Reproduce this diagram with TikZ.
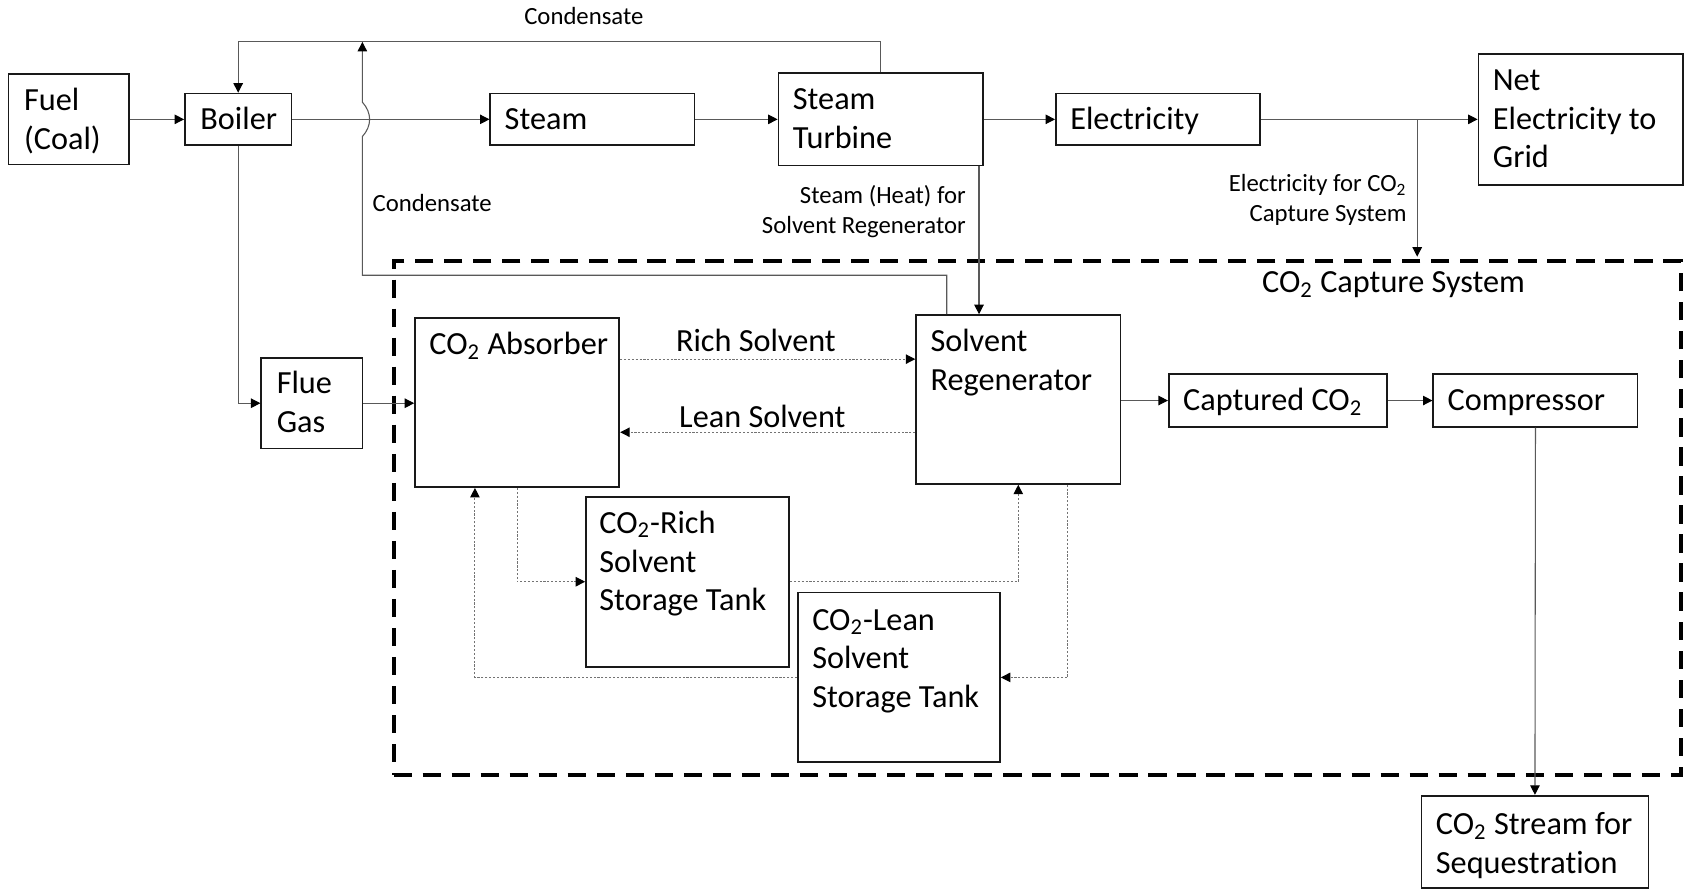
\documentclass[tikz,border=0pt]{standalone}
\usepackage{fontspec}
\setmainfont{Carlito}[Ligatures=NoCommon]
\usetikzlibrary{arrows.meta,fit,calc}
\newcommand{\cotwo}{CO\textsubscript{2}}
\newcommand{\bigfont}{\fontsize{15}{18}\selectfont}
\newcommand{\smallfont}{\fontsize{11.5}{14}\selectfont}
\tikzset{
  blk/.style={draw=black!90, line width=0.8pt, inner sep=0pt},
  % multi-line texts are anchored at the baseline of their last line
  blktxt/.style={font=\bigfont, align=left, inner sep=0pt, anchor=base west},
  hdr/.style={font=\bigfont, inner sep=0pt, anchor=base},
  sidenote/.style={font=\smallfont, inner sep=0pt},
  arrowtip/.style={-{Triangle[length=4.4pt,width=4.4pt,color=black]}},
  flowline/.style={draw=black!65, line width=0.5pt},
  solvline/.style={draw=black!55, line width=0.5pt, dash pattern=on 1pt off 0.8pt},
  capregion/.style={draw=black, line width=1.9pt, dash pattern=on 8.5pt off 5pt, inner sep=0pt},
}
\begin{document}
\begin{tikzpicture}[x=0.5pt, y=-0.5pt]
\useasboundingbox (0,0) rectangle (1568,828);

% capture system boundary
\node[capregion, fit={(366,243) (1563,721)}] (capture) {};
\node[hdr] (capturetext) at (1296,272) {\cotwo{} Capture System};

% blocks
\node[blk, fit={(8,69) (120,153)}] (fuel) {};
\node[blk, fit={(172,87) (271,135)}] (boiler) {};
\node[blk, fit={(456,87) (646,135)}] (steam) {};
\node[blk, fit={(724,68) (914,154)}] (turbine) {};
\node[blk, fit={(982,87) (1172,135)}] (elec) {};
\node[blk, fit={(1375,50) (1565,172)}] (net) {};
\node[blk, fit={(243,333) (337,417)}] (flue) {};
\node[blk, fit={(386,296) (576,453)}] (absorber) {};
\node[blk, fit={(852,293) (1042,450)}] (regen) {};
\node[blk, fit={(1087,348) (1290,397)}] (captured) {};
\node[blk, fit={(1333,348) (1523,397)}] (compressor) {};
\node[blk, fit={(545,462) (734,620)}] (richtank) {};
\node[blk, fit={(742,551) (930,709)}] (leantank) {};
\node[blk, fit={(1322,740) (1533,826)}] (stream) {};

% block texts
\node[blktxt] (fueltext) at (22,139) {Fuel\\(Coal)};
\node[blktxt] (boilertext) at (186,120) {Boiler};
\node[blktxt] (steamtext) at (469,120) {Steam};
\node[blktxt] (turbinetext) at (737,138) {Steam\\Turbine};
\node[blktxt] (electext) at (995,120) {Electricity};
\node[blktxt] (nettext) at (1388,156) {Net\\Electricity to\\Grid};
\node[blktxt] (fluetext) at (257,402) {Flue\\Gas};
\node[blktxt] (absorbertext) at (399,330) {\cotwo{} Absorber};
\node[blktxt] (regentext) at (865,363) {Solvent\\Regenerator};
\node[blktxt] (capturedtext) at (1100,382) {Captured \cotwo};
\node[blktxt] (compressortext) at (1346,382) {Compressor};
\node[blktxt] (richtanktext) at (557,568) {\cotwo-Rich\\Solvent\\Storage Tank};
\node[blktxt] (leantanktext) at (755,658) {\cotwo-Lean\\Solvent\\Storage Tank};
\node[blktxt] (streamtext) at (1335,812) {\cotwo{} Stream for\\Sequestration};

% helper coordinates for connector routing
\coordinate (ctop) at (0,39);
\coordinate (cjoin) at (337,39);
\coordinate (cback) at (880.5,256);
\coordinate (sheat) at (910.5,0);
\coordinate (ebranch) at (1318,111);
\coordinate (richy) at (0,334);
\coordinate (leany) at (0,402);
\coordinate (adown) at (481,0);
\coordinate (aup) at (441.7,0);
\coordinate (rup) at (947,0);
\coordinate (rdown) at (993,0);

% main power path
\draw[flowline, arrowtip] (fuel.east |- boiler.west) -- (boiler.west);
\draw[flowline, arrowtip] (boiler.east) -- (steam.west);
\draw[flowline, arrowtip] (steam.east) -- (turbine.west |- steam.east);
\draw[flowline, arrowtip] (turbine.east |- elec.west) -- (elec.west);
\draw[flowline, arrowtip] (elec.east) -- (net.west |- elec.east);
\draw[flowline, arrowtip, shorten >=1.2pt] (ebranch) -- (ebranch |- capture.north);

% condensate returns
\draw[flowline, arrowtip] (turbine.north) -- (turbine.north |- ctop) -- (boiler.north |- ctop) -- (boiler.north);
\draw[flowline, arrowtip] (regen.north -| cback) -- (cback) -- (cjoin |- cback) -- (337,127)
  .. controls (346,117) and (346,105) .. (337,95) -- (cjoin);

% steam to regenerator
\draw[flowline, arrowtip] (turbine.south -| sheat) -- (regen.north -| sheat);

% flue gas path
\draw[flowline, arrowtip] (boiler.south) |- (flue.west);
\draw[flowline, arrowtip] (flue.east) -- (flue.east -| absorber.west);

% solvent loop
\draw[solvline, arrowtip] (absorber.east |- richy) -- (regen.west |- richy);
\draw[solvline, arrowtip] (regen.west |- leany) -- (absorber.east |- leany);
\draw[solvline, arrowtip] (absorber.south -| adown) |- (richtank.west);
\draw[solvline, arrowtip] (richtank.east) -| (regen.south -| rup);
\draw[solvline, arrowtip] (regen.south -| rdown) |- (leantank.east);
\draw[solvline, arrowtip] (leantank.west) -| (absorber.south -| aup);

% captured CO2 path
\draw[flowline, arrowtip] (regen.east |- captured.west) -- (captured.west);
\draw[flowline, arrowtip] (captured.east) -- (compressor.west);
\draw[flowline, arrowtip] (compressor.south) -- (stream.north);

% flow labels
\node[sidenote, anchor=base] (condtop) at (543,23) {Condensate};
\node[sidenote, anchor=base] (condlow) at (402,197) {Condensate};
\node[sidenote, anchor=base east, align=right] (steamnote) at (898.5,217) {Steam (Heat) for\\Solvent Regenerator};
\node[sidenote, anchor=base east, align=right] (elecnote) at (1308.5,206) {Electricity for \cotwo\\Capture System};
\node[hdr] (richlabel) at (703,327) {Rich Solvent};
\node[hdr] (leanlabel) at (709,398) {Lean Solvent};
\end{tikzpicture}
\end{document}
